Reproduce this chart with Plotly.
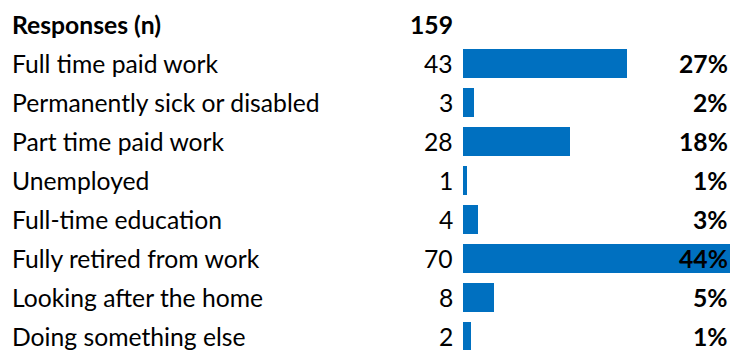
import plotly.graph_objects as go

categories = ["Full time paid work", "Permanently sick or disabled", "Part time paid work",
              "Unemployed", "Full-time education", "Fully retired from work",
              "Looking after the home", "Doing something else"]
counts = [43, 3, 28, 1, 4, 70, 8, 2]
pct_labels = ["27%", "2%", "18%", "1%", "3%", "44%", "5%", "1%"]
total_label = "Responses (n)"
total_value = 159

W, H = 732, 350
FONT = "Lato"
FS = 24.7
BLUE = "#0070C0"

ypos = list(range(len(categories)))

fig = go.Figure()
fig.add_trace(go.Bar(
    x=counts, y=ypos, orientation="h",
    marker=dict(color=BLUE, line=dict(width=0)),
    width=0.745, hoverinfo="skip",
))

ann = []
def px(x):
    return x / W

# header row
ann.append(dict(x=px(10), y=-1, xref="paper", yref="y", text="<b>%s</b>" % total_label,
                xanchor="left", yanchor="middle", showarrow=False))
ann.append(dict(x=px(455), y=-1, xref="paper", yref="y", text="<b>%d</b>" % total_value,
                xanchor="right", yanchor="middle", showarrow=False))
for i, (c, n, p) in enumerate(zip(categories, counts, pct_labels)):
    ann.append(dict(x=px(10), y=i, xref="paper", yref="y", text=c,
                    xanchor="left", yanchor="middle", showarrow=False))
    ann.append(dict(x=px(455), y=i, xref="paper", yref="y", text=str(n),
                    xanchor="right", yanchor="middle", showarrow=False))
    ann.append(dict(x=px(730), y=i, xref="paper", yref="y", text="<b>%s</b>" % p,
                    xanchor="right", yanchor="middle", showarrow=False))

row_px = 39.0
first_center = 63.5
ymin = -first_center / row_px
ymax = (H - first_center) / row_px

fig.update_layout(
    width=W, height=H,
    margin=dict(l=0, r=0, t=0, b=0),
    paper_bgcolor="white", plot_bgcolor="white",
    font=dict(family=FONT, size=FS, color="black"),
    showlegend=False,
    bargap=0,
    xaxis=dict(domain=[463 / W, 1], range=[0, 70 * 269 / 267], visible=False, fixedrange=True),
    yaxis=dict(range=[ymax, ymin], visible=False, fixedrange=True),
    annotations=ann,
)

fig.write_html("out.html")
